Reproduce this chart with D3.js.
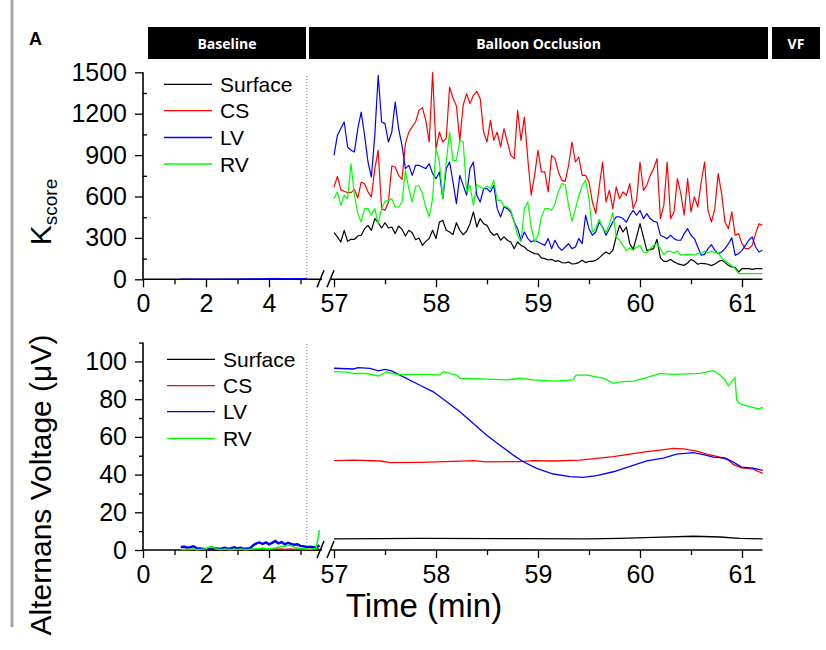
<!DOCTYPE html>
<html><head><meta charset="utf-8">
<script src="https://cdn.jsdelivr.net/npm/d3@7"></script>
<style>body{margin:0;background:#fff}svg{display:block}</style>
</head><body>
<svg id="chart" width="826" height="650"></svg>
<script>
// ---------- DATA ----------
const seriesNames = ["Surface", "CS", "LV", "RV"];
const seriesColors = ["#000000", "#ff0000", "#0000ff", "#00ff00"];
const phases = ["Baseline", "Balloon Occlusion", "VF"];
const leftTicks = [0, 2, 4];
const rightTicks = [57, 58, 59, 60, 61];
const kTicks = [0, 300, 600, 900, 1200, 1500];
const vTicks = [0, 20, 40, 60, 80, 100];

// Top panel (K score), occlusion segment, sampled every 2 s from 57:00
const kSampleStart = 57, kSampleSec = 2;
const kSurface = [338,307,270,355,275,290,290,314,319,367,391,355,440,410,372,410,372,379,331,386,362,314,355,338,287,299,246,275,295,355,
  295,415,427,355,343,324,410,355,324,348,403,488,379,440,403,391,343,319,331,283,307,283,270,222,270,246,234,210,198,186,184,155,
  150,140,145,130,135,121,118,126,111,114,121,138,121,130,130,138,155,179,198,184,210,307,391,343,379,258,217,307,403,307,210,215,
  222,290,155,130,130,145,126,114,106,101,118,145,130,109,116,114,109,99,111,128,138,123,101,89,85,53,77,77,77,72,77,77,77];
const kCS = [669,746,650,638,628,628,652,589,705,693,633,597,802,935,512,500,560,821,814,753,724,983,1067,1104,1140,1224,1244,1152,995,1497,
  947,1067,995,1019,1393,1314,1256,1007,1261,1345,1273,1333,1362,1309,1067,995,1152,1007,1067,959,1092,995,898,874,1224,1007,1176,874,609,753,935,778,
  778,633,898,874,778,717,710,826,995,850,886,753,753,705,560,476,669,850,560,645,512,669,584,633,609,693,512,572,850,645,681,753,
  802,874,439,536,850,439,488,729,621,464,729,488,597,524,705,850,500,415,512,766,621,415,367,488,319,331,258,222,222,246,331,403,391];
const kLV = [898,1043,1092,1140,959,935,923,1092,1212,1043,850,741,1043,1478,1140,1128,995,1067,1285,1092,971,802,826,753,826,826,814,802,838,766,
  729,778,584,802,850,705,548,753,681,609,802,850,609,560,657,657,633,681,512,452,524,512,488,415,367,283,343,295,270,283,270,258,
  246,295,222,283,234,210,234,258,222,234,295,258,464,367,319,343,415,379,319,367,415,452,452,440,415,464,500,464,500,440,476,440,
  420,415,319,307,295,319,295,283,283,331,367,319,295,234,174,181,222,251,210,186,198,222,258,300,174,186,210,246,283,307,234,198,210];
const kRV = [584,633,536,609,584,838,609,476,415,512,512,464,512,403,512,565,572,584,524,524,560,790,657,560,676,676,621,524,452,584,
  947,850,584,850,1067,862,860,1007,995,633,681,536,686,669,657,676,657,717,572,572,531,524,500,415,319,270,512,560,379,270,319,452,
  512,512,500,548,637,693,686,536,420,507,604,681,717,584,343,367,435,372,343,396,483,307,283,246,210,227,210,234,246,198,193,222,
  246,258,222,179,203,203,191,205,174,181,181,181,174,186,186,205,193,205,193,193,155,130,118,97,77,41,41,41,41,41,41,41,41];

// Top panel, baseline segment (near zero)
const kBaseTimes = [1.2, 2.0, 3.0, 3.8, 4.2, 4.6, 5.0, 5.2];
const kBaseLV = [2, 1, 2, 5, 7, 4, 6, 5];

// Bottom panel (alternans voltage), baseline segment, every 0.1 min from 1.2 min
const vBaseStart = 1.2, vBaseStep = 0.1;
const vBaseSurface = [0,0,0,0,0,0,0,0,0,0,0,0,0,0,0,0,0,0,0,0,0,0,0,0,0,0,0,0,0,0,0,0,0,0,0,0,0,0,0,0,0,0,0,0,0];
const vBaseCS = [0.2,0.3,0.2,0.4,0.3,0.2,0.3,0.2,0.3,0.4,0.3,0.2,0.3,0.2,0.3,0.4,0.3,0.2,0.3,0.2,0.3,0.4,0.3,0.2,0.3,0.5,0.4,0.3,0.5,0.4,0.6,0.4,0.5,0.3,0.4,0.5,0.3,0.4,0.3,0.2,0.3,0.2,0.3,0.4,0.5];
const vBaseLV = [1.5,1.8,1.2,1.5,2.0,1.0,0.8,0.6,0.5,0.8,0.6,1.0,0.7,0.8,1.2,0.6,1.0,1.5,0.8,1.2,0.6,0.8,1.0,2.5,3.5,4.0,3.2,4.0,3.0,3.8,4.8,3.5,4.2,3.0,3.8,3.2,2.8,3.0,2.2,2.0,1.5,1.8,1.5,1.2,2.5];
const vBaseRV = [0.3,0.2,0.4,0.3,0.5,0.2,0.3,0.4,0.6,1.5,2.0,0.8,0.4,0.3,0.5,0.3,0.2,0.4,0.3,0.5,0.3,0.2,0.4,0.5,0.6,0.8,1.0,0.7,0.5,0.8,1.0,1.5,2.0,1.8,2.8,2.2,1.5,1.0,0.8,0.6,0.5,0.4,0.6,1.0,10.5];

// Bottom panel, occlusion segment [time (min), µV]
const vSurface = [[57.0,5.9],[57.843,6.2],[58.824,6.0],[59.477,5.9],[59.804,6.2],[60.131,6.7],[60.523,7.3],[60.784,6.9],[60.98,6.2],[61.203,5.9]];
const vCS = [[57.0,47.4],[57.19,47.7],[57.451,47.2],[57.549,46.3],[57.843,46.5],[58.17,47.0],[58.366,47.4],[58.497,46.7],[58.824,46.9],[58.954,47.4],[59.15,47.2],[59.412,47.7],[59.575,48.6],[59.739,49.5],[59.902,50.9],[60.065,52.2],[60.196,53.0],[60.327,53.9],[60.425,53.6],[60.556,52.5],[60.654,50.9],[60.784,49.2],[60.866,47.7],[60.915,45.4],[60.997,43.6],[61.111,42.9],[61.203,40.6]];
const vLV = [[57.0,96.4],[57.19,96.0],[57.239,96.7],[57.353,96.3],[57.435,95.0],[57.5,95.8],[57.565,95.0],[57.68,91.8],[57.843,87.4],[57.974,83.9],[58.105,78.6],[58.235,73.3],[58.366,67.1],[58.497,60.9],[58.627,55.6],[58.758,50.3],[58.856,46.8],[58.987,43.3],[59.15,40.3],[59.314,38.9],[59.444,38.5],[59.575,39.4],[59.739,41.5],[59.902,44.4],[60.065,47.3],[60.229,48.7],[60.359,50.8],[60.523,51.6],[60.621,50.6],[60.719,49.3],[60.833,48.8],[60.915,46.6],[60.997,44.0],[61.111,43.4],[61.203,42.2]];
const vRV = [[57.0,94.6],[57.124,94.3],[57.19,93.6],[57.32,93.6],[57.435,92.3],[57.516,94.4],[57.614,93.2],[57.778,93.2],[57.941,93.2],[58.039,92.8],[58.072,94.6],[58.203,92.8],[58.235,91.1],[58.497,90.6],[58.693,90.2],[58.824,91.1],[58.954,90.2],[59.15,89.6],[59.346,90.2],[59.373,92.8],[59.477,92.8],[59.641,91.1],[59.739,88.4],[59.804,89.2],[59.935,89.6],[60.065,91.4],[60.196,93.7],[60.327,93.2],[60.458,93.4],[60.588,93.7],[60.719,95.1],[60.784,92.8],[60.833,90.2],[60.866,87.0],[60.899,89.2],[60.931,91.4],[60.948,79.6],[60.98,77.5],[61.078,76.1],[61.16,74.8],[61.203,75.7]];

// ---------- DRAW ----------
const svg = d3.select("#chart");
const FONT = "'Liberation Sans', Arial, sans-serif";

// left frame border
svg.append("line").attr("x1", 12).attr("x2", 12).attr("y1", 0).attr("y2", 627)
  .attr("stroke", "#a6a6a6").attr("stroke-width", 3);

svg.append("text").attr("x", 29).attr("y", 45).text("A")
  .attr("font-family", FONT).attr("font-weight", "bold").attr("font-size", 18);

// phase bars
const barX = d3.scaleOrdinal().domain(phases).range([[148, 306], [309, 768], [772, 820]]);
phases.forEach(p => {
  const [a, b] = barX(p);
  svg.append("rect").attr("x", a).attr("y", 27).attr("width", b - a).attr("height", 32).attr("fill", "#000");
  svg.append("text").attr("x", (a + b) / 2).attr("y", 48.5).attr("text-anchor", "middle")
    .attr("fill", "#fff").attr("font-family", "'Open Sans', sans-serif").attr("font-weight", "bold")
    .attr("font-size", 14).text(p);
});

const xL = d3.scaleLinear().domain([0, 5.6]).range([143, 319.4]);
const xR = d3.scaleLinear().domain([57, 61.2]).range([334, 762.4]);
const yT = d3.scaleLinear().domain([0, 1500]).range([279.3, 72.3]);
const yB = d3.scaleLinear().domain([0, 110]).range([550, 342.6]);

function styleAxis(g) {
  g.selectAll("path.domain").remove();
  g.selectAll("line").attr("stroke", "#000").attr("stroke-width", 1.3);
  g.selectAll("text").attr("font-family", FONT).attr("font-size", 25).attr("fill", "#000");
}

function xAxes(y0) {
  const gL = svg.append("g").attr("transform", `translate(0,${y0})`)
    .call(d3.axisBottom(xL).tickValues(leftTicks).tickSize(8).tickPadding(7).tickFormat(d3.format("d")));
  styleAxis(gL);
  const gLm = svg.append("g").attr("transform", `translate(0,${y0})`)
    .call(d3.axisBottom(xL).tickValues([1, 3, 5]).tickSize(5).tickFormat(""));
  styleAxis(gLm);
  const gR = svg.append("g").attr("transform", `translate(0,${y0})`)
    .call(d3.axisBottom(xR).tickValues(rightTicks).tickSize(8).tickPadding(7).tickFormat(d3.format("d")));
  styleAxis(gR);
  const gRm = svg.append("g").attr("transform", `translate(0,${y0})`)
    .call(d3.axisBottom(xR).tickValues([57.5, 58.5, 59.5, 60.5]).tickSize(5).tickFormat(""));
  styleAxis(gRm);
  svg.append("line").attr("x1", xL(0)).attr("x2", 322).attr("y1", y0).attr("y2", y0)
    .attr("stroke", "#000").attr("stroke-width", 1.6);
  svg.append("line").attr("x1", 331).attr("x2", xR(61.2)).attr("y1", y0).attr("y2", y0)
    .attr("stroke", "#000").attr("stroke-width", 1.6);
  [317, 327].forEach(bx => svg.append("line").attr("x1", bx).attr("y1", y0 + 8)
    .attr("x2", bx + 7).attr("y2", y0 - 9).attr("stroke", "#000").attr("stroke-width", 1.5));
}

function yAxis(scale, major, minor, inward) {
  const g = svg.append("g").attr("transform", `translate(143,0)`)
    .call(d3.axisLeft(scale).tickValues(major).tickSize(8).tickPadding(8).tickFormat(d3.format("d")));
  styleAxis(g);
  const gm = svg.append("g").attr("transform", `translate(143,0)`)
    .call((inward ? d3.axisRight(scale) : d3.axisLeft(scale)).tickValues(minor).tickSize(4).tickFormat(""));
  styleAxis(gm);
  svg.append("line").attr("x1", 143).attr("x2", 143).attr("y1", scale.range()[1]).attr("y2", scale.range()[0])
    .attr("stroke", "#000").attr("stroke-width", 1.6);
}

// ---- top panel ----
yAxis(yT, kTicks, [150, 450, 750, 1050, 1350], true);
xAxes(279.3);
svg.append("line").attr("x1", xL(5.2)).attr("x2", xL(5.2)).attr("y1", 76).attr("y2", 279)
  .attr("stroke", "#777").attr("stroke-width", 1).attr("stroke-dasharray", "1,2");

const kTimes = kCS.map((_, i) => kSampleStart + i * kSampleSec / 60);
const lineK = d3.line().x(d => xR(d[0])).y(d => yT(d[1]));
[kSurface, kCS, kLV, kRV].forEach((arr, i) => {
  svg.append("path").datum(arr.map((v, j) => [kTimes[j], v]))
    .attr("d", lineK).attr("fill", "none").attr("stroke", seriesColors[i])
    .attr("stroke-width", 1.2).attr("stroke-linejoin", "round");
});
svg.append("path").datum(kBaseTimes.map((t, j) => [t, kBaseLV[j]]))
  .attr("d", d3.line().x(d => xL(d[0])).y(d => yT(d[1])))
  .attr("fill", "none").attr("stroke", "#0000ff").attr("stroke-width", 1);

// ---- bottom panel ----
yAxis(yB, vTicks, [10, 30, 50, 70, 90, 110], false);
xAxes(550);
svg.append("line").attr("x1", xL(5.2)).attr("x2", xL(5.2)).attr("y1", 344).attr("y2", 550)
  .attr("stroke", "#777").attr("stroke-width", 1).attr("stroke-dasharray", "1,2");

const lineVL = d3.line().x(d => xL(d[0])).y(d => yB(d[1]));
[vBaseSurface, vBaseCS, vBaseLV, vBaseRV].forEach((arr, i) => {
  svg.append("path").datum(arr.map((v, j) => [vBaseStart + j * vBaseStep, v]))
    .attr("d", lineVL).attr("fill", "none").attr("stroke", seriesColors[i])
    .attr("stroke-width", i === 2 ? 2.4 : 1.5);
});
const lineVR = d3.line().x(d => xR(d[0])).y(d => yB(d[1]));
[vSurface, vCS, vLV, vRV].forEach((arr, i) => {
  svg.append("path").datum(arr).attr("d", lineVR).attr("fill", "none")
    .attr("stroke", seriesColors[i]).attr("stroke-width", 1.3);
});

// ---- legends ----
function legend(x0, y0s) {
  seriesNames.forEach((n, i) => {
    svg.append("line").attr("x1", x0).attr("x2", x0 + 48).attr("y1", y0s[i]).attr("y2", y0s[i])
      .attr("stroke", seriesColors[i]).attr("stroke-width", 1.3);
    svg.append("text").attr("x", x0 + 56).attr("y", y0s[i] + 7.5).text(n)
      .attr("font-family", FONT).attr("font-size", 21);
  });
}
legend(164, [84.3, 110.7, 137.5, 164]);
legend(167, [359.3, 385.7, 411.7, 438.3]);

// ---- axis titles ----
svg.append("text").attr("x", 424).attr("y", 617).attr("text-anchor", "middle")
  .attr("font-family", FONT).attr("font-size", 33).text("Time (min)");
svg.append("text").attr("transform", "translate(51,485) rotate(-90)").attr("text-anchor", "middle")
  .attr("font-family", FONT).attr("font-size", 30).text("Alternans Voltage (\u03BCV)");
const kt = svg.append("text").attr("transform", "translate(51,212) rotate(-90)").attr("text-anchor", "middle")
  .attr("font-family", FONT);
kt.append("tspan").attr("font-size", 30).text("K");
kt.append("tspan").attr("font-size", 19).attr("dy", 6).text("score");
</script>
</body></html>
